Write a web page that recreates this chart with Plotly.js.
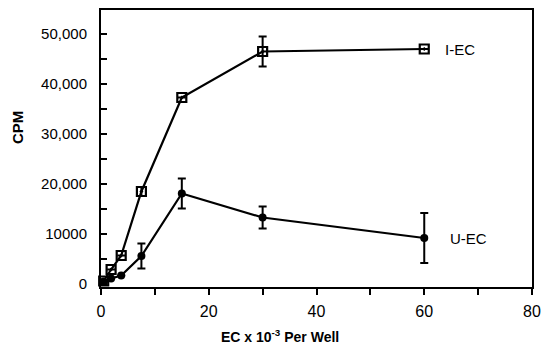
<!DOCTYPE html>
<html>
<head>
<meta charset="utf-8">
<script src="https://cdn.plot.ly/plotly-3.0.1.min.js"></script>
<style>html,body{margin:0;padding:0;background:#fff}</style>
</head>
<body>
<div id="chart" style="width:542px;height:344px"></div>
<script>
// Data
const xVals = [0.5, 1.875, 3.75, 7.5, 15, 30, 60];
const iecVals = [600, 2900, 5700, 18500, 37300, 46500, 47000];
const iecErr = [0, 0, 0, 900, 0, 3000, 0];
const uecVals = [500, 1100, 1700, 5600, 18100, 13300, 9200];
const uecErr = [0, 0, 0, 2500, 3000, 2200, 5000];
const yTickVals = [0, 10000, 20000, 30000, 40000, 50000];
const yTickText = ["0", "10000", "20,000", "30,000", "40,000", "50,000"];
const xTickVals = [0, 20, 40, 60, 80];
const seriesNames = ["I-EC", "U-EC"];

const font = {family: "Liberation Sans, Arial, sans-serif", color: "#000"};
const f = (s) => Object.assign({size: s}, font);

const traces = [
  {
    x: xVals, y: iecVals, name: seriesNames[0], type: "scatter", mode: "lines+markers",
    line: {color: "#000", width: 2.2},
    marker: {symbol: "square-open-dot", size: 9, color: "#000", line: {width: 2.2, color: "#000"}},
    error_y: {type: "data", array: iecErr, visible: true, color: "#000", thickness: 2, width: 4},
    cliponaxis: false
  },
  {
    x: xVals, y: uecVals, name: seriesNames[1], type: "scatter", mode: "lines+markers",
    line: {color: "#000", width: 2.2},
    marker: {symbol: "circle", size: 8, color: "#000"},
    error_y: {type: "data", array: uecErr, visible: true, color: "#000", thickness: 2, width: 4},
    cliponaxis: false
  }
];

const pw = 542 - 101 - 10, ph = 344 - 10 - 57;
const px = (p) => (p - 101) / pw;   // pixel x -> paper
const py = (p) => (287 - p) / ph;   // pixel y -> paper

const layout = {
  width: 542, height: 344,
  margin: {l: 101, r: 10, t: 10, b: 57},
  paper_bgcolor: "#fff", plot_bgcolor: "#fff",
  showlegend: false,
  font: f(15),
  xaxis: {
    range: [0, 80], tickvals: xTickVals, ticktext: xTickVals.map(String),
    ticks: "outside", ticklen: 6, tickwidth: 2, tickcolor: "#000",
    minor: {dtick: 10, ticks: "outside", ticklen: 6, tickwidth: 2, tickcolor: "#000"},
    showline: true, linewidth: 2, linecolor: "#000", mirror: true,
    showgrid: false, zeroline: false,
    tickfont: f(16), ticklabelstandoff: 3
  },
  yaxis: {
    range: [-600, 54800], tickvals: yTickVals, ticktext: yTickText,
    ticks: "inside", ticklen: 6, tickwidth: 2, tickcolor: "#000",
    minor: {dtick: 5000, tick0: 0, ticks: "inside", ticklen: 6, tickwidth: 2, tickcolor: "#000"},
    showline: true, linewidth: 2, linecolor: "#000", mirror: true,
    showgrid: false, zeroline: false,
    tickfont: f(15), ticklabelstandoff: 9
  },
  annotations: [
    {text: "I-EC", x: 63.5, y: 47000, xref: "x", yref: "y", xanchor: "left", yanchor: "middle", showarrow: false, font: f(15)},
    {text: "U-EC", x: 64.5, y: 9200, xref: "x", yref: "y", xanchor: "left", yanchor: "middle", showarrow: false, font: f(15)},
    {text: "<b>CPM</b>", x: px(18), y: py(128), xref: "paper", yref: "paper", xanchor: "center", yanchor: "middle", showarrow: false, textangle: -90, font: f(15)},
    {text: "<b>EC x 10<sup>-3</sup> Per Well</b>", x: px(280), y: py(336), xref: "paper", yref: "paper", xanchor: "center", yanchor: "middle", showarrow: false, font: f(14)}
  ]
};

Plotly.newPlot("chart", traces, layout, {displayModeBar: false, staticPlot: true});
</script>
</body>
</html>
